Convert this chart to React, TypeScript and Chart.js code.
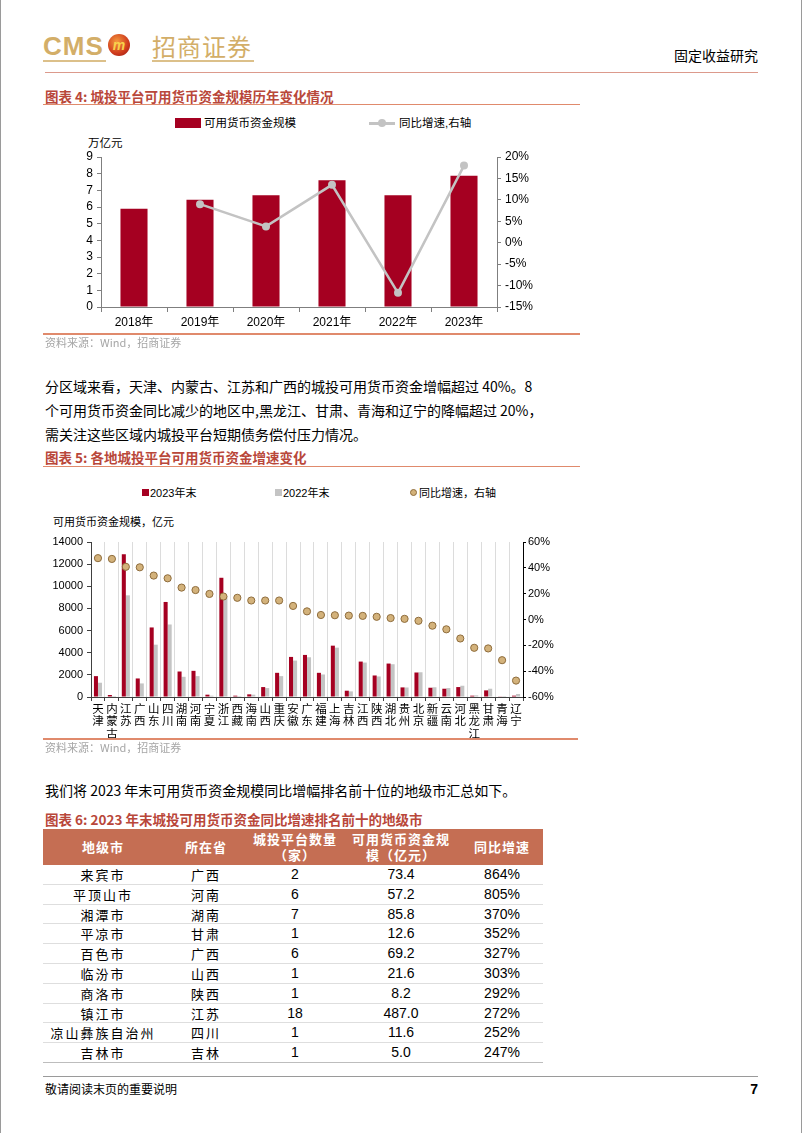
import React, { useEffect, useRef } from "react";
import { Chart, registerables } from "chart.js";

Chart.register(...registerables);

// ---------- Chart 4 data ----------
const years = ["2018年", "2019年", "2020年", "2021年", "2022年", "2023年"];
const fundScale = [5.9, 6.44, 6.7, 7.6, 6.7, 7.88];
const fundYoY = [null, 9.0, 3.8, 13.5, -11.7, 18.0];

// ---------- Chart 5 data ----------
const regions = ["天津", "内蒙古", "江苏", "广西", "山东", "四川", "湖南", "河南", "宁夏", "浙江", "西藏", "海南", "山西", "重庆", "安徽", "广东", "福建", "上海", "吉林", "江西", "陕西", "湖北", "贵州", "北京", "新疆", "云南", "河北", "黑龙江", "甘肃", "青海", "辽宁"];
const funds2023 = [1885, 180, 12893, 1675, 6282, 8585, 2303, 2363, 209, 10769, 120, 240, 897, 2184, 3620, 3800, 2184, 4637, 568, 3200, 1944, 3021, 867, 2213, 837, 748, 897, 120, 598, 60, 120];
const funds2022 = [1290, 95, 9183, 1226, 4726, 6551, 1825, 1885, 120, 9140, 90, 210, 808, 1885, 3290, 3590, 2034, 4457, 508, 3110, 1855, 2961, 860, 2235, 880, 810, 1017, 150, 748, 85, 270];
const regionGrowth = [47.5, 46.9, 40.8, 40.4, 34.0, 31.9, 24.7, 22.8, 19.8, 17.8, 16.8, 14.7, 14.7, 14.7, 10.5, 6.3, 3.5, 3.3, 3.0, 2.8, 2.1, 1.1, 0.5, -1.0, -4.8, -7.6, -14.7, -21.9, -22.4, -31.5, -47.3];

// ---------- Table 6 data ----------
const tableHeaders = ["地级市", "所在省", "城投平台数量\n（家）", "可用货币资金规\n模（亿元）", "同比增速"];
const cities = ["来宾市", "平顶山市", "湘潭市", "平凉市", "百色市", "临汾市", "商洛市", "镇江市", "凉山彝族自治州", "吉林市"];
const provinces = ["广西", "河南", "湖南", "甘肃", "广西", "山西", "陕西", "江苏", "四川", "吉林"];
const platformCounts = ["2", "6", "7", "1", "6", "1", "1", "18", "1", "1"];
const fundSizes = ["73.4", "57.2", "85.8", "12.6", "69.2", "21.6", "8.2", "487.0", "11.6", "5.0"];
const growthRates = ["864%", "805%", "370%", "352%", "327%", "303%", "292%", "272%", "252%", "247%"];

const FAM = '"Liberation Sans", "Noto Sans CJK SC", sans-serif';
const CJK = '"Noto Sans CJK SC", sans-serif';
const RED = "#a50021";
const TITLE = "#b9473a";
const RULE = "#e08a6c";

function Txt(props: any) {
  const { x, y, size = 14, color = "#000", weight = 400, right, family = CJK, children, spacing = 0 } = props;
  const h = Math.round(size * 1.5);
  const style: any = {
    position: "absolute",
    top: y - h / 2,
    lineHeight: h + "px",
    height: h,
    fontSize: size,
    color,
    fontWeight: weight,
    fontFamily: family,
    whiteSpace: "nowrap",
    letterSpacing: spacing,
  };
  if (right !== undefined) style.right = 802 - right;
  else style.left = x;
  return <div style={style}>{children}</div>;
}

function Line(props: any) {
  const { x1, x2, y, color, w = 1 } = props;
  return <div style={{ position: "absolute", left: x1, top: y, width: x2 - x1, height: w, background: color }} />;
}

function Chart4() {
  const ref = useRef<HTMLCanvasElement>(null);
  useEffect(() => {
    const font = { family: FAM, size: 12 };
    const chart = new Chart(ref.current as HTMLCanvasElement, {
      type: "bar",
      data: {
        labels: years,
        datasets: [
          {
            type: "line",
            label: "同比增速,右轴",
            data: fundYoY as any,
            yAxisID: "y1",
            borderColor: "#c3c3c3",
            backgroundColor: "#c3c3c3",
            borderWidth: 2.5,
            pointRadius: 4,
            pointBackgroundColor: "#c3c3c3",
            pointBorderWidth: 0,
            order: 0,
          } as any,
          {
            type: "bar",
            label: "可用货币资金规模",
            data: fundScale,
            yAxisID: "y",
            backgroundColor: RED,
            barPercentage: 0.41,
            categoryPercentage: 1,
            order: 1,
          },
        ],
      },
      options: {
        animation: false,
        responsive: false,
        maintainAspectRatio: false,
        layout: { padding: { top: 22, left: 0, right: 0, bottom: 0 } },
        plugins: { legend: { display: false }, tooltip: { enabled: false } },
        scales: {
          x: {
            grid: { drawOnChartArea: false, drawTicks: true, tickLength: 5, color: "#7f7f7f", offset: true },
            border: { color: "#7f7f7f" },
            ticks: { font, color: "#000", padding: 3, maxRotation: 0 },
            afterFit: (s: any) => { s.height = 28; },
          },
          y: {
            position: "left",
            min: 0,
            max: 9,
            grid: { drawOnChartArea: false, tickLength: 4, color: "#7f7f7f" },
            border: { color: "#7f7f7f" },
            ticks: { stepSize: 1, autoSkip: false, font, color: "#000", padding: 4, callback: (v: any) => String(v) },
            afterFit: (s: any) => { s.width = 61; },
          },
          y1: {
            position: "right",
            min: -15,
            max: 20,
            grid: { drawOnChartArea: false, tickLength: 4, color: "#7f7f7f" },
            border: { color: "#7f7f7f" },
            ticks: { stepSize: 5, autoSkip: false, font, color: "#000", padding: 4, callback: (v: any) => v + "%" },
            afterFit: (s: any) => { s.width = 63; },
          },
        },
      } as any,
    });
    return () => chart.destroy();
  }, []);
  return <canvas ref={ref} width={520} height={200} style={{ position: "absolute", left: 40, top: 135, width: 520, height: 200 }} />;
}

function Chart5() {
  const ref = useRef<HTMLCanvasElement>(null);
  useEffect(() => {
    const font = { family: FAM, size: 11 };
    const chart = new Chart(ref.current as HTMLCanvasElement, {
      type: "bar",
      data: {
        labels: regions.map((r) => r.split("")),
        datasets: [
          {
            type: "line",
            label: "同比增速，右轴",
            data: regionGrowth,
            yAxisID: "y1",
            showLine: false,
            pointRadius: 3.6,
            pointBackgroundColor: "#d3b27b",
            pointBorderColor: "#8e6c3c",
            pointBorderWidth: 1,
            order: 0,
          } as any,
          {
            type: "bar",
            label: "2023年末",
            data: funds2023,
            yAxisID: "y",
            backgroundColor: RED,
            barPercentage: 1,
            categoryPercentage: 0.58,
            order: 1,
          },
          {
            type: "bar",
            label: "2022年末",
            data: funds2022,
            yAxisID: "y",
            backgroundColor: "#c4c4c4",
            barPercentage: 1,
            categoryPercentage: 0.58,
            order: 2,
          },
        ],
      },
      options: {
        animation: false,
        responsive: false,
        maintainAspectRatio: false,
        layout: { padding: { top: 12, left: 0, right: 0, bottom: 0 } },
        plugins: { legend: { display: false }, tooltip: { enabled: false } },
        scales: {
          x: {
            grid: { drawOnChartArea: true, drawTicks: true, tickLength: 4, color: "#dcdcdc", tickColor: "#404040", offset: true },
            border: { color: "#404040" },
            ticks: { font: { family: CJK, size: 11.5, lineHeight: 1.05 }, color: "#000", padding: 2, maxRotation: 0, minRotation: 0, autoSkip: false },
            afterFit: (s: any) => { s.height = 48; },
          },
          y: {
            position: "left",
            min: 0,
            max: 14000,
            grid: { drawOnChartArea: false, tickLength: 4, color: "#404040" },
            border: { color: "#404040" },
            ticks: { stepSize: 2000, autoSkip: false, font, color: "#000", padding: 4, callback: (v: any) => String(v) },
            afterFit: (s: any) => { s.width = 51; },
          },
          y1: {
            position: "right",
            min: -60,
            max: 60,
            grid: { drawOnChartArea: false, tickLength: 3, color: "#000" },
            border: { color: "#000" },
            ticks: { stepSize: 20, autoSkip: false, font, color: "#000", padding: 2, callback: (v: any) => v + "%" },
            afterFit: (s: any) => { s.width = 57; },
          },
        },
      } as any,
    });
    return () => chart.destroy();
  }, []);
  return <canvas ref={ref} width={540} height={215} style={{ position: "absolute", left: 40, top: 530, width: 540, height: 215 }} />;
}

function Table6() {
  const cols = [
    { l: 43, w: 120 },
    { l: 163, w: 86 },
    { l: 249, w: 92 },
    { l: 341, w: 120 },
    { l: 461, w: 82 },
  ];
  const rowH = 19.8;
  const top0 = 865;
  const rows = cities.map((c, i) => [c, provinces[i], platformCounts[i], fundSizes[i], growthRates[i]]);
  return (
    <div>
      <div style={{ position: "absolute", left: 43, top: 829, width: 500, height: 36, background: "#c56e53" }} />
      {tableHeaders.map((h, j) => (
        <div key={"h" + j} style={{ position: "absolute", left: cols[j].l, top: 829, width: cols[j].w, height: 36, display: "flex", alignItems: "center", justifyContent: "center", textAlign: "center", color: "#fff", fontFamily: CJK, fontWeight: 700, fontSize: 13, lineHeight: "16px", whiteSpace: "pre", letterSpacing: 1 }}>
          {h}
        </div>
      ))}
      {rows.map((r, i) => (
        <div key={"r" + i}>
          {r.map((v, j) => (
            <div key={j} style={{ position: "absolute", left: cols[j].l, top: top0 + i * rowH, width: cols[j].w, height: rowH, lineHeight: rowH + "px", textAlign: "center", fontFamily: j < 2 ? CJK : FAM, fontSize: j < 2 ? 13 : 14, letterSpacing: j < 2 ? 2 : 0, color: "#000", whiteSpace: "nowrap" }}>
              {v}
            </div>
          ))}
          <div style={{ position: "absolute", left: 43, top: top0 + (i + 1) * rowH - 1, width: 500, height: 1, background: i === rows.length - 1 ? "#bdbdbd" : "#dedede" }} />
        </div>
      ))}
    </div>
  );
}

export default function App() {
  return (
    <div style={{ position: "absolute", left: 0, top: 0, width: 802, height: 1133, background: "#fff", overflow: "hidden" }}>
      <div style={{ position: "absolute", left: 0, top: 0, width: 1, height: 1133, background: "#9a9a9a" }} />
      <div style={{ position: "absolute", left: 801, top: 0, width: 1, height: 1133, background: "#9a9a9a" }} />

      {/* Header logo */}
      <Txt x={43} y={46} size={26} color="#d3ae68" weight={700} family='"Liberation Sans Narrow", "Liberation Sans", sans-serif' spacing={1}>CMS</Txt>
      <Line x1={43} x2={106} y={60} color="#dcc08a" w={2} />
      <div style={{ position: "absolute", left: 108, top: 34, width: 22, height: 22, borderRadius: "50%", background: "radial-gradient(circle at 40% 35%, #f59a3e, #cf3a1c 60%, #8f1512)", color: "#f8d24c", fontFamily: FAM, fontStyle: "italic", fontWeight: 700, fontSize: 14, lineHeight: "22px", textAlign: "center" }}>m</div>
      <Txt x={152} y={46} size={24} color="#d3ae68" family={CJK} spacing={1}>招商证券</Txt>
      <Line x1={152} x2={254} y={60} color="#dcc08a" w={2} />
      <Txt right={758} y={55} size={14} color="#000">固定收益研究</Txt>
      <Line x1={45} x2={758} y={72} color="#dc9a8c" w={1} />

      {/* Chart 4 */}
      <Txt x={45} y={96} size={13.5} color={TITLE} weight={700}>图表 4:  城投平台可用货币资金规模历年变化情况</Txt>
      <Line x1={43} x2={580} y={104} color={RULE} w={1} />
      <div style={{ position: "absolute", left: 175, top: 118, width: 26, height: 10, background: RED }} />
      <Txt x={204} y={123} size={11.5} family={FAM}>可用货币资金规模</Txt>
      <Line x1={369} x2={395} y={122} color="#c3c3c3" w={2.5} />
      <div style={{ position: "absolute", left: 378, top: 119, width: 8, height: 8, borderRadius: "50%", background: "#c3c3c3" }} />
      <Txt x={399} y={123} size={11.5} family={FAM}>同比增速,右轴</Txt>
      <Txt x={88} y={143} size={11.5} family={FAM}>万亿元</Txt>
      <Chart4 />
      <Line x1={43} x2={580} y={333} color={RULE} w={1.5} />
      <Txt x={45} y={342} size={11} color="#a6a6a6">资料来源：Wind，招商证券</Txt>

      {/* Paragraph */}
      <Txt x={45} y={386} size={14}>分区域来看，天津、内蒙古、江苏和广西的城投可用货币资金增幅超过 40%。8</Txt>
      <Txt x={45} y={410} size={14}>个可用货币资金同比减少的地区中,黑龙江、甘肃、青海和辽宁的降幅超过 20%，</Txt>
      <Txt x={45} y={434} size={14}>需关注这些区域内城投平台短期债务偿付压力情况。</Txt>

      {/* Chart 5 */}
      <Txt x={45} y={457} size={13.5} color={TITLE} weight={700}>图表 5:  各地城投平台可用货币资金增速变化</Txt>
      <Line x1={43} x2={580} y={466} color={RULE} w={1} />
      <div style={{ position: "absolute", left: 142, top: 489, width: 7, height: 7, background: RED }} />
      <Txt x={150} y={493} size={11} family={FAM}>2023年末</Txt>
      <div style={{ position: "absolute", left: 275, top: 489, width: 7, height: 7, background: "#c4c4c4" }} />
      <Txt x={283} y={493} size={11} family={FAM}>2022年末</Txt>
      <div style={{ position: "absolute", left: 410, top: 489, width: 7, height: 7, borderRadius: "50%", background: "#d3b27b", border: "1px solid #8e6c3c", boxSizing: "border-box" }} />
      <Txt x={419} y={493} size={11} family={FAM}>同比增速，右轴</Txt>
      <Txt x={53} y={522} size={11} family={FAM}>可用货币资金规模，亿元</Txt>
      <Chart5 />
      <Line x1={43} x2={578} y={738} color={RULE} w={1.5} />
      <Txt x={45} y={747} size={11} color="#a6a6a6">资料来源：Wind，招商证券</Txt>

      {/* Text */}
      <Txt x={45} y={790} size={14}>我们将 2023 年末可用货币资金规模同比增幅排名前十位的地级市汇总如下。</Txt>

      {/* Table 6 */}
      <Txt x={45} y={819} size={13.5} color={TITLE} weight={700}>图表 6:  2023 年末城投可用货币资金同比增速排名前十的地级市</Txt>
      <Table6 />

      {/* Footer */}
      <Line x1={43} x2={758} y={1076} color="#9a9a9a" w={1} />
      <Txt x={45} y={1089} size={12} color="#000">敬请阅读末页的重要说明</Txt>
      <Txt right={758} y={1089} size={14} weight={700} family={FAM}>7</Txt>
    </div>
  );
}
